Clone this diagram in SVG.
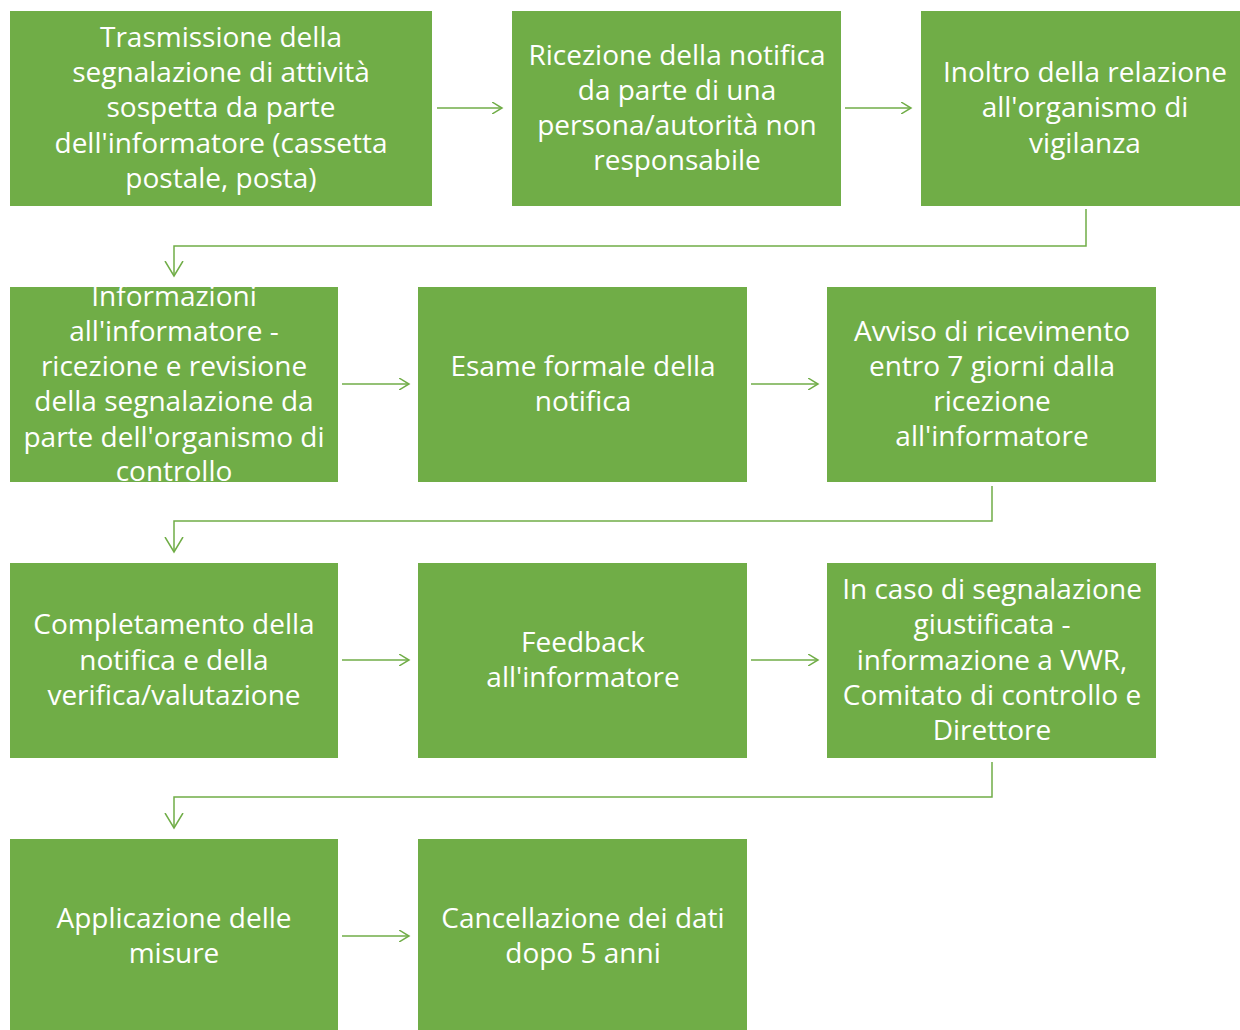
<svg xmlns="http://www.w3.org/2000/svg" width="1240" height="1030" viewBox="0 0 1240 1030">
<defs>
<marker id="ah" markerWidth="12" markerHeight="12" refX="10" refY="6" orient="auto" markerUnits="userSpaceOnUse">
<path d="M0,0 L10,6 L0,12" fill="none" stroke="#70AD47" stroke-width="1.5"/>
</marker>
<marker id="ahd" markerWidth="30" markerHeight="30" refX="15" refY="15" orient="0" markerUnits="userSpaceOnUse">
<path d="M6,0 L15,15 L24,0" fill="none" stroke="#70AD47" stroke-width="1.5"/>
</marker>
</defs>
<style>
.box{fill:#70AD47;}
.t{fill:#ffffff;font-family:"Open Sans","Noto Sans","Liberation Sans",sans-serif;font-size:28px;text-anchor:middle;}
.c{fill:none;stroke:#70AD47;stroke-width:1.5;}
</style>
<rect width="1240" height="1030" fill="#ffffff"/>
<g id="connectors">
<line class="c" x1="437" y1="108" x2="502" y2="108" marker-end="url(#ah)"/>
<line class="c" x1="845" y1="108" x2="911" y2="108" marker-end="url(#ah)"/>
<polyline class="c" points="1086,209 1086,246 174,246 174,276" marker-end="url(#ahd)"/>
<line class="c" x1="342" y1="384" x2="409" y2="384" marker-end="url(#ah)"/>
<line class="c" x1="751" y1="384" x2="818" y2="384" marker-end="url(#ah)"/>
<polyline class="c" points="992,486 992,521 174,521 174,552" marker-end="url(#ahd)"/>
<line class="c" x1="342" y1="660" x2="409" y2="660" marker-end="url(#ah)"/>
<line class="c" x1="751" y1="660" x2="818" y2="660" marker-end="url(#ah)"/>
<polyline class="c" points="992,762 992,797 174,797 174,828" marker-end="url(#ahd)"/>
<line class="c" x1="342" y1="936" x2="409" y2="936" marker-end="url(#ah)"/>
</g>
<g id="n1"><rect class="box" x="10" y="11" width="422" height="195"/>
<text class="t"><tspan x="221" y="47">Trasmissione della</tspan><tspan x="221" y="82">segnalazione di attività</tspan><tspan x="221" y="117">sospetta da parte</tspan><tspan x="221" y="153">dell'informatore (cassetta</tspan><tspan x="221" y="188">postale, posta)</tspan></text></g>
<g id="n2"><rect class="box" x="512" y="11" width="329" height="195"/>
<text class="t"><tspan x="677" y="65">Ricezione della notifica</tspan><tspan x="677" y="100">da parte di una</tspan><tspan x="677" y="135">persona/autorità non</tspan><tspan x="677" y="170">responsabile</tspan></text></g>
<g id="n3"><rect class="box" x="921" y="11" width="319" height="195"/>
<text class="t"><tspan x="1085" y="82">Inoltro della relazione</tspan><tspan x="1085" y="117">all'organismo di</tspan><tspan x="1085" y="153">vigilanza</tspan></text></g>
<g id="n4"><rect class="box" x="10" y="287" width="328" height="195"/>
<text class="t"><tspan x="174" y="306">Informazioni</tspan><tspan x="174" y="341">all'informatore -</tspan><tspan x="174" y="376">ricezione e revisione</tspan><tspan x="174" y="411">della segnalazione da</tspan><tspan x="174" y="447">parte dell'organismo di</tspan><tspan x="174" y="481">controllo</tspan></text></g>
<g id="n5"><rect class="box" x="418" y="287" width="329" height="195"/>
<text class="t"><tspan x="583" y="376">Esame formale della</tspan><tspan x="583" y="411">notifica</tspan></text></g>
<g id="n6"><rect class="box" x="827" y="287" width="329" height="195"/>
<text class="t"><tspan x="992" y="341">Avviso di ricevimento</tspan><tspan x="992" y="376">entro 7 giorni dalla</tspan><tspan x="992" y="411">ricezione</tspan><tspan x="992" y="446">all'informatore</tspan></text></g>
<g id="n7"><rect class="box" x="10" y="563" width="328" height="195"/>
<text class="t"><tspan x="174" y="634">Completamento della</tspan><tspan x="174" y="670">notifica e della</tspan><tspan x="174" y="705">verifica/valutazione</tspan></text></g>
<g id="n8"><rect class="box" x="418" y="563" width="329" height="195"/>
<text class="t"><tspan x="583" y="652">Feedback</tspan><tspan x="583" y="687">all'informatore</tspan></text></g>
<g id="n9"><rect class="box" x="827" y="563" width="329" height="195"/>
<text class="t"><tspan x="992" y="599">In caso di segnalazione</tspan><tspan x="992" y="634">giustificata -</tspan><tspan x="992" y="670">informazione a VWR,</tspan><tspan x="992" y="705">Comitato di controllo e</tspan><tspan x="992" y="740">Direttore</tspan></text></g>
<g id="n10"><rect class="box" x="10" y="839" width="328" height="195"/>
<text class="t"><tspan x="174" y="928">Applicazione delle</tspan><tspan x="174" y="963">misure</tspan></text></g>
<g id="n11"><rect class="box" x="418" y="839" width="329" height="195"/>
<text class="t"><tspan x="583" y="928">Cancellazione dei dati</tspan><tspan x="583" y="963">dopo 5 anni</tspan></text></g>
</svg>
